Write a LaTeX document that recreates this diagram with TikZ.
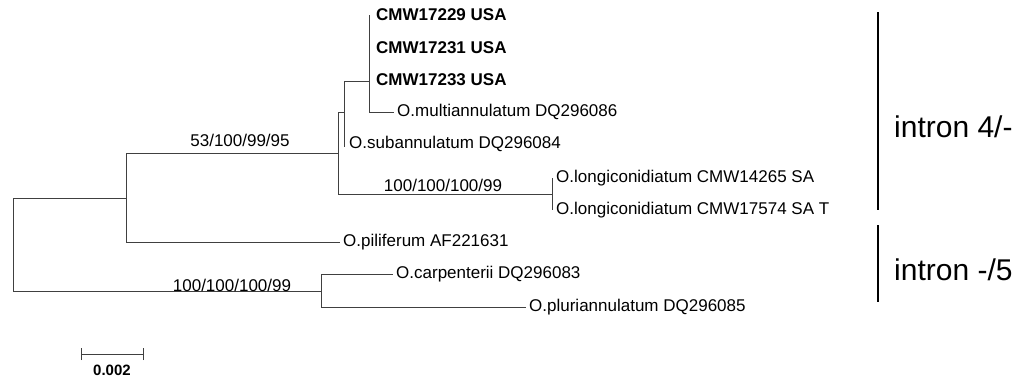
\documentclass[tikz,border=0pt]{standalone}
\usepackage{fontspec}
\setmainfont{Liberation Sans}
\begin{document}
\begin{tikzpicture}[x=1pt,y=-1pt,
  br/.style={draw=black!75,line width=0.9pt},
  bar/.style={draw=black,line width=1.6pt},
  lab/.style={anchor=west,inner sep=0pt,font=\fontsize{17}{20}\selectfont},
  blab/.style={lab,font=\fontsize{17}{20}\selectfont\bfseries},
  sup/.style={inner sep=0pt,font=\fontsize{17}{20}\selectfont},
  intr/.style={anchor=west,inner sep=0pt,font=\fontsize{30}{34}\selectfont}]
\useasboundingbox (0,0) rectangle (1025,381);
% internal nodes
\coordinate (R) at (13,244);
\coordinate (A) at (126,198);
\coordinate (B) at (338,153);
\coordinate (D) at (344,112);
\coordinate (E) at (369,81);
\coordinate (F) at (552,194);
\coordinate (C) at (321,291);
% leaves
\node[blab] (l1) at (376,15) {CMW17229 USA};
\node[blab] (l2) at (376,48) {CMW17231 USA};
\node[blab] (l3) at (376,80) {CMW17233 USA};
\node[lab] (l4) at (397,112) {O.multiannulatum DQ296086};
\node[lab] (l5) at (349,144) {O.subannulatum DQ296084};
\node[lab] (l6) at (556,178) {O.longiconidiatum CMW14265 SA};
\node[lab] (l7) at (556,210) {O.longiconidiatum CMW17574 SA T};
\node[lab] (l8) at (343,242) {O.piliferum AF221631};
\node[lab] (l9) at (396,274) {O.carpenterii DQ296083};
\node[lab] (l10) at (529,307) {O.pluriannulatum DQ296085};
% branches
\draw[br] (E |- l1.west) -- (E |- l4.west) -- ([xshift=-3pt]l4.west);
\draw[br] (D |- E) -- ([yshift=-3pt]D |- l5.west);
\draw[br] (D |- E) -- (E);
\draw[br] (B |- D) -- (B |- F);
\draw[br] (B |- D) -- (D);
\draw[br] (B |- F) -- (F);
\draw[br] ([xshift=-4pt]l6.west) -- ([xshift=-4pt]l7.west);
\draw[br] (A |- B) -- (A |- l8.west);
\draw[br] (A |- B) -- (B);
\draw[br] (A |- l8.west) -- ([xshift=-3pt]l8.west);
\draw[br] (R |- A) -- (R |- C);
\draw[br] (R |- A) -- (A);
\draw[br] (R |- C) -- (C);
\draw[br] (C |- l9.west) -- (C |- l10.west);
\draw[br] (C |- l9.west) -- ([xshift=-3pt]l9.west);
\draw[br] (C |- l10.west) -- ([xshift=-3pt]l10.west);
% support values
\node[sup] (s1) at (240,140) {53/100/99/95};
\node[sup] (s2) at (443,185) {100/100/100/99};
\node[sup] (s3) at (232,285) {100/100/100/99};
% clade bars
\coordinate (b1t) at (878,12);
\coordinate (b1b) at (878,210);
\coordinate (b2t) at (878,225);
\coordinate (b2b) at (878,302);
\draw[bar] (b1t) -- (b1b);
\draw[bar] (b2t) -- (b2b);
\node[intr] (i1) at (894,127) {intron 4/-};
\node[intr] (i2) at (894,270) {intron -/5};
% scale bar
\coordinate (sb1) at (81,354);
\coordinate (sb2) at (143,354);
\draw[br] (sb1) -- (sb2);
\draw[br] ([yshift=-6pt]sb1) -- ([yshift=6pt]sb1);
\draw[br] ([yshift=-6pt]sb2) -- ([yshift=6pt]sb2);
\node[inner sep=0pt,font=\fontsize{15}{17}\selectfont\bfseries] (sbl) at (112,370) {0.002};
\end{tikzpicture}
\end{document}
